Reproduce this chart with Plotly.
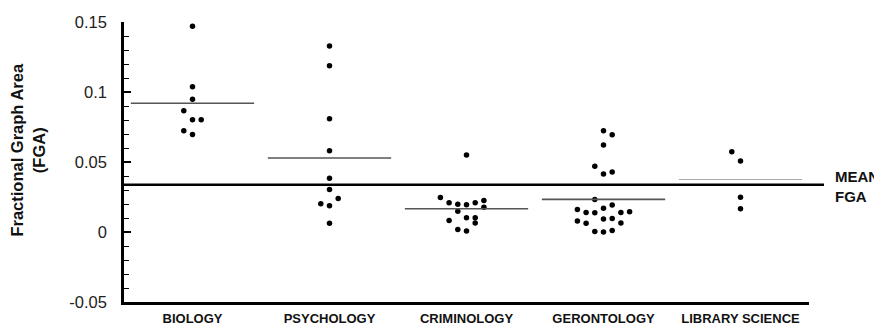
import plotly.graph_objects as go

categories = ["BIOLOGY", "PSYCHOLOGY", "CRIMINOLOGY", "GERONTOLOGY", "LIBRARY SCIENCE"]

biology = [0.147, 0.1038, 0.0949, 0.0866, 0.0802, 0.0802, 0.0723, 0.0697]
biology_slot = [0, 0, 0, -1, 0, 1, -1, 0]

psychology = [0.1328, 0.1188, 0.0809, 0.0581, 0.0384, 0.0304, 0.024, 0.0202, 0.0188, 0.0062]
psychology_slot = [0, 0, 0, 0, 0, 0, 1, -1, 0, 0]

criminology = [0.055, 0.0247, 0.0209, 0.0199, 0.0195, 0.0209, 0.0225, 0.0176,
               0.0149, 0.0102, 0.0102, 0.0083, 0.0064, 0.0017, 0.0007]
criminology_slot = [0, -3, -2, -1, 0, 1, 2, 2, -1, 0, 1, -2, 1, -1, 0]

gerontology = [0.0723, 0.0695, 0.0621, 0.047, 0.0415, 0.0429, 0.0233, 0.0161,
               0.014, 0.0138, 0.0169, 0.0192, 0.014, 0.0145, 0.0092, 0.0097,
               0.0078, 0.0062, 0.0064, 0.0003, 0.0, 0.001]
gerontology_slot = [0, 1, 0, -1, 0, 1, -1, -3, -2, -1, 0, 1, 2, 3, 0, 1, -3, -2, 2, -1, 0, 1]

library_science = [0.0574, 0.0508, 0.0249, 0.0166]
library_science_slot = [-1, 0, 0, 0]

category_means = [0.092, 0.0529, 0.0166, 0.0233, 0.0375]
overall_mean = 0.0338

y_tickvals = [0.15, 0.1, 0.05, 0, -0.05]
y_ticktext = ["0.15", "0.1", "0.05", "0", "-0.05"]

series = [
    (biology, biology_slot),
    (psychology, psychology_slot),
    (criminology, criminology_slot),
    (gerontology, gerontology_slot),
    (library_science, library_science_slot),
]

SLOT_W = 0.0635
FONT = "Liberation Sans, Arial, sans-serif"

fig = go.Figure()
for i, (vals, slots) in enumerate(series):
    fig.add_trace(go.Scatter(
        x=[i + s * SLOT_W for s in slots],
        y=vals,
        mode="markers",
        marker=dict(color="black", size=5.5),
        showlegend=False,
        hoverinfo="y",
    ))

for i, m in enumerate(category_means):
    last = i == len(category_means) - 1
    fig.add_shape(type="line", xref="x", yref="y",
                  x0=i - 0.45, x1=i + 0.45, y0=m, y1=m,
                  line=dict(color="#aaaaaa" if last else "#555555",
                            width=1.2 if last else 1.6))

fig.add_shape(type="line", xref="paper", yref="y",
              x0=0, x1=1.0219, y0=overall_mean, y1=overall_mean,
              line=dict(color="black", width=2.6))

fig.add_annotation(text="<b>Fractional Graph Area<br>(FGA)</b>",
                   xref="paper", yref="paper", x=-0.1409, y=0.546,
                   xanchor="center", yanchor="middle", textangle=-90,
                   showarrow=False, font=dict(family=FONT, size=16.5, color="#111"))

fig.add_annotation(text="<b>MEAN<br>FGA</b>", align="left",
                   xref="paper", yref="paper", x=1.0362, y=0.412,
                   xanchor="left", yanchor="middle", borderpad=0,
                   showarrow=False, font=dict(family=FONT, size=15, color="#111"))

fig.update_layout(
    width=874, height=317,
    margin=dict(l=116, r=73, t=14, b=23),
    plot_bgcolor="white", paper_bgcolor="white",
    font=dict(family=FONT),
    xaxis=dict(
        range=[-0.5, 4.5],
        tickvals=list(range(len(categories))),
        ticktext=categories,
        ticks="",
        showgrid=False, zeroline=False,
        showline=True, linecolor="black", linewidth=2.5,
        tickfont=dict(family=FONT, size=13, color="#111", weight="bold"),
        ticklabelstandoff=3,
        automargin=False,
    ),
    yaxis=dict(
        range=[-0.05, 0.15],
        tickvals=y_tickvals,
        ticktext=y_ticktext,
        ticks="inside", ticklen=7, tickwidth=1.6, tickcolor="black",
        minor=dict(dtick=0.01, ticks="inside", ticklen=5, tickwidth=1.4, tickcolor="black"),
        showgrid=False, zeroline=False,
        showline=True, linecolor="black", linewidth=2.5,
        tickfont=dict(family=FONT, size=16.5, color="#222"),
        ticklabelstandoff=11,
        automargin=False,
    ),
)

fig.write_html("out.html")
